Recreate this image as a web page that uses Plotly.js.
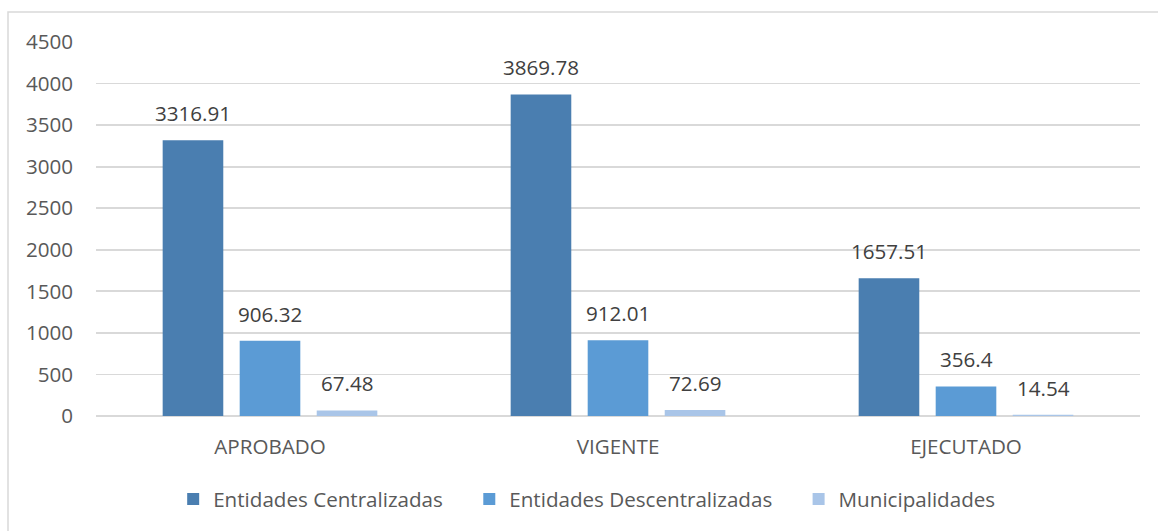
<!DOCTYPE html>
<html>
<head>
<meta charset="utf-8">
<script src="https://cdn.plot.ly/plotly-3.0.1.min.js"></script>
<style>
html,body{margin:0;padding:0;background:#fff;}
#chart{width:1158px;height:531px;}
</style>
</head>
<body>
<div id="chart"></div>
<script>
const categories = ["APROBADO", "VIGENTE", "EJECUTADO"];
const seriesNames = ["Entidades Centralizadas", "Entidades Descentralizadas", "Municipalidades"];
const centralizadas = [3316.91, 3869.78, 1657.51];
const descentralizadas = [906.32, 912.01, 356.4];
const municipalidades = [67.48, 72.69, 14.54];
const yTicks = [0, 500, 1000, 1500, 2000, 2500, 3000, 3500, 4000, 4500];

const seriesValues = [centralizadas, descentralizadas, municipalidades];
const colors = ["#4a7eb0", "#5b9bd5", "#a9c5e8"];
const FONT = "Open Sans";
const FS = 20.6;
const legendPad = "\u00A0\u00A0\u00A0\u00A0";

const traces = seriesValues.map((vals, i) => ({
  type: "bar",
  name: seriesNames[i] + (i < seriesNames.length - 1 ? legendPad : ""),
  x: categories,
  y: vals,
  marker: {color: colors[i], line: {width: 0}},
  hoverinfo: "none"
}));

const slot = 77;
const annotations = [];
seriesValues.forEach((vals, i) => {
  vals.forEach((v, j) => {
    annotations.push({
      xref: "x", yref: "y",
      x: categories[j], y: v,
      xshift: (i - 1) * slot,
      yanchor: "bottom", xanchor: "center",
      yshift: 11,
      showarrow: false,
      text: String(v),
      font: {family: FONT, size: FS, color: "#404040"}
    });
  });
});

const layout = {
  width: 1158, height: 531,
  margin: {l: 96, r: 18, t: 42, b: 115, pad: 0},
  paper_bgcolor: "#ffffff",
  plot_bgcolor: "#ffffff",
  barmode: "group",
  bargap: 0.336,
  bargroupgap: 0.213,
  showlegend: true,
  legend: {
    orientation: "h",
    x: 0.47, xanchor: "center",
    y: -0.222, yanchor: "middle",
    font: {family: FONT, size: FS, color: "#595959"},
    traceorder: "normal",
    itemclick: false
  },
  xaxis: {
    type: "category",
    showgrid: false,
    showline: false,
    zeroline: false,
    ticks: "",
    ticklabelstandoff: 16,
    tickfont: {family: FONT, size: FS, color: "#595959"}
  },
  yaxis: {
    range: [0, 4500],
    tickvals: yTicks,
    ticktext: yTicks.map(String),
    showgrid: true,
    gridcolor: "#d9d9d9",
    gridwidth: 1.7,
    zeroline: true,
    zerolinecolor: "#d9d9d9",
    zerolinewidth: 1.7,
    showline: false,
    ticks: "",
    ticklabelstandoff: 22,
    tickfont: {family: FONT, size: FS, color: "#595959"}
  },
  annotations: annotations,
  shapes: [{
    type: "rect", xref: "paper", yref: "paper",
    x0: (8 - 96) / 1044, x1: 1.2,
    y0: -0.6, y1: (416 - 12) / 374,
    line: {color: "#d9d9d9", width: 1.5},
    fillcolor: "rgba(0,0,0,0)",
    layer: "below"
  }]
};

Plotly.newPlot("chart", traces, layout, {displayModeBar: false, staticPlot: true});
</script>
</body>
</html>
